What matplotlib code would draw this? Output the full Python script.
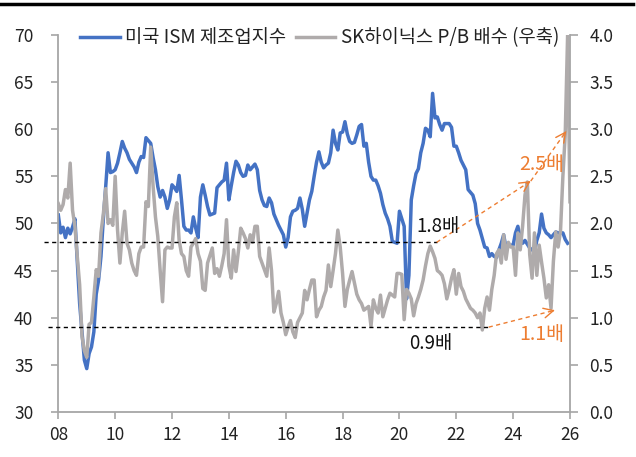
import numpy as np
import matplotlib
matplotlib.use("Agg")
import matplotlib.pyplot as plt
from matplotlib.lines import Line2D

plt.rcParams['font.family'] = ['Noto Sans CJK KR', 'DejaVu Sans']

BLUE = '#4472C4'
GRAY = '#AFABAB'
ORANGE = '#ED7D31'
AXIS_GRAY = '#A6A6A6'

START_YEAR = 2008

# 미국 ISM 제조업지수, monthly 2008-01 ~ 2025-12
ism_values = [
    50.9, 49.0, 49.6, 48.5, 49.5, 48.9, 49.6, 50.5, 46.0, 41.5, 38.5, 35.5,  # 2008
    34.6, 36.2, 36.9, 38.5, 42.5, 44.0, 46.5, 50.5, 53.9, 57.5, 55.4, 55.5,  # 2009
    55.7, 56.4, 57.5, 58.7, 58.0, 57.5, 56.8, 56.4, 56.0, 55.4, 56.5, 57.1,  # 2010
    57.0, 59.1, 58.8, 58.5, 57.0, 55.7, 53.9, 52.8, 53.5, 52.8, 51.6, 52.5,  # 2011
    54.1, 53.8, 53.4, 55.1, 52.5, 49.7, 49.3, 49.3, 49.0, 50.7, 49.5, 48.5,  # 2012
    52.8, 54.1, 53.0, 51.8, 50.9, 51.0, 51.1, 53.8, 54.1, 54.4, 54.6, 56.4,  # 2013
    52.5, 54.0, 55.4, 56.6, 56.2, 55.4, 55.0, 55.1, 56.2, 55.7, 56.0, 56.3,  # 2014
    55.7, 53.5, 52.5, 51.9, 51.8, 52.7, 52.2, 51.0, 50.4, 49.8, 49.3, 48.8,  # 2015
    47.5, 48.5, 50.7, 51.3, 51.4, 51.6, 52.7, 51.5, 49.7, 51.1, 52.5, 53.4,  # 2016
    55.0, 56.5, 57.6, 56.5, 55.9, 56.2, 56.4, 57.5, 59.9, 58.5, 57.8, 59.6,  # 2017
    59.7, 60.8, 59.5, 58.7, 58.5, 58.6, 59.4, 60.3, 60.5, 58.2, 58.5, 56.5,  # 2018
    55.0, 54.6, 54.6, 54.0, 53.2, 52.0, 51.1, 50.5, 49.7, 48.1, 48.0, 47.9,  # 2019
    51.3, 50.5, 49.7, 42.0, 44.5, 52.5, 54.0, 55.3, 55.8, 57.5, 58.5, 60.1,  # 2020
    59.9, 59.2, 63.8, 61.2, 61.3, 60.5, 59.9, 60.6, 60.6, 60.6, 60.2, 58.2,  # 2021
    58.2, 57.5, 56.7, 56.2, 55.7, 53.6, 53.3, 53.0, 52.1, 50.0, 49.3, 48.4,  # 2022
    47.5, 47.4, 46.5, 46.8, 46.5, 46.4, 47.2, 47.9, 48.8, 47.4, 47.6, 47.7,  # 2023
    47.7, 49.0, 49.7, 48.5, 47.9, 48.2, 47.8, 47.4, 47.2, 47.0, 48.2, 49.0,  # 2024
    51.0, 49.5, 49.0, 48.8, 48.5, 48.8, 49.1, 49.0, 49.0, 49.0, 48.3, 47.9,  # 2025
]

# SK하이닉스 P/B 배수, monthly 2008-01 ~ 2026-01
pb_values = [
    2.21, 2.14, 2.20, 2.36, 2.27, 2.64, 2.14, 1.97, 1.65, 1.35, 0.80, 0.65,  # 2008
    0.58, 0.93, 0.95, 1.22, 1.51, 1.44, 1.90, 2.10, 2.37, 2.00, 2.04, 1.98,  # 2009
    2.50, 1.93, 1.58, 1.90, 2.13, 1.79, 1.72, 1.58, 1.50, 1.45, 1.68, 1.75,  # 2010
    1.75, 2.23, 2.18, 2.81, 2.40, 2.07, 1.86, 1.50, 1.17, 1.72, 1.75, 1.74,  # 2011
    1.74, 2.07, 2.22, 1.82, 1.68, 1.65, 1.50, 1.44, 1.75, 1.79, 1.84, 1.68,  # 2012
    1.60, 1.31, 1.29, 1.58, 1.66, 1.74, 1.47, 1.52, 1.44, 1.55, 1.68, 2.04,  # 2013
    1.55, 1.42, 1.72, 1.49, 1.70, 1.95, 1.90, 1.84, 1.74, 1.88, 1.80, 1.97,  # 2014
    1.97, 1.65, 1.58, 1.51, 1.44, 1.74, 1.50, 1.06, 1.15, 1.28, 1.05, 0.95,  # 2015
    0.82, 0.90, 0.97, 0.85, 0.79, 0.95, 1.00, 1.05, 1.29, 1.19, 1.30, 1.40,  # 2016
    1.40, 1.01, 1.08, 1.12, 1.22, 1.29, 1.56, 1.33, 1.50, 1.68, 1.93, 1.75,  # 2017
    1.47, 1.12, 1.30, 1.40, 1.49, 1.37, 1.25, 1.19, 1.15, 1.08, 1.10, 1.12,  # 2018
    0.91, 1.19, 1.10, 1.05, 1.24, 1.01, 1.10, 1.19, 1.26, 1.24, 1.22, 1.47,  # 2019
    1.47, 1.46, 0.98, 1.30, 1.26, 1.20, 1.02, 1.15, 1.22, 1.30, 1.40, 1.55,  # 2020
    1.68, 1.76, 1.70, 1.63, 1.50, 1.48, 1.45, 1.36, 1.20, 1.30, 1.42, 1.51,  # 2021
    1.25, 1.47, 1.33, 1.28, 1.20, 1.15, 1.10, 1.08, 1.05, 1.00, 1.05, 0.87,  # 2022
    1.10, 1.22, 1.08, 1.30, 1.45, 1.68, 1.72, 1.58, 1.88, 1.62, 1.80, 1.75,  # 2023
    1.75, 1.45, 1.90, 1.72, 1.97, 2.30, 2.44, 1.67, 1.42, 1.90, 1.45, 1.77,  # 2024
    1.59, 1.42, 1.21, 1.35, 1.10, 1.60, 1.91, 1.75, 1.92, 2.50, 2.95, 4.00,  # 2025
    2.23,                                                                    # 2026
]

x_ticks = list(range(2008, 2027, 2))
x_tick_labels = ['08', '10', '12', '14', '16', '18', '20', '22', '24', '26']
ism_ticks = list(range(30, 71, 5))
pb_ticks = [0.0, 0.5, 1.0, 1.5, 2.0, 2.5, 3.0, 3.5, 4.0]

# reference P/B levels and the years where the dashed guide lines stop
pb_high, pb_high_end = 1.8, 2021.31
pb_low, pb_low_end = 0.9, 2023.14

# orange arrow targets (year, P/B)
peak_2024 = (2024.62, 2.45)
peak_2025 = (2025.87, 2.98)
trough_2025 = (2025.47, 1.08)


def month_axis(n):
    return START_YEAR + np.arange(n) / 12.0


def dashed_arrow(ax, start, end):
    ax.plot([start[0], end[0]], [start[1], end[1]], color=ORANGE,
            lw=1.0, ls=(0, (3, 2.5)), zorder=5)
    back = (end[0] - (end[0] - start[0]) * 0.03,
            end[1] - (end[1] - start[1]) * 0.03)
    ax.annotate('', xy=end, xytext=back,
                arrowprops=dict(arrowstyle='->,head_length=0.7,head_width=0.35',
                                color=ORANGE, lw=1.0, shrinkA=0, shrinkB=0,
                                mutation_scale=10),
                zorder=5)


def plot_chart():
    fig = plt.figure(figsize=(6.36, 4.57), dpi=100)
    ax1 = fig.add_axes([0.0917, 0.0985, 0.8045, 0.825])
    ax2 = ax1.twinx()

    ax1.plot(month_axis(len(ism_values)), ism_values, color=BLUE, lw=2.5,
             label='미국 ISM 제조업지수', solid_joinstyle='round')
    ax2.plot(month_axis(len(pb_values)), pb_values, color=GRAY, lw=2.5,
             label='SK하이닉스 P/B 배수 (우축)', solid_joinstyle='round')

    ax1.set_xlim(2008, 2026)
    ax1.set_ylim(30, 70)
    ax2.set_ylim(0, 4.0)

    ax1.set_xticks(x_ticks)
    ax1.set_xticklabels(x_tick_labels)
    ax1.set_yticks(ism_ticks)
    ax2.set_yticks(pb_ticks)
    ax2.set_yticklabels([f'{v:.1f}' for v in pb_ticks])

    for ax in (ax1, ax2):
        ax.spines['top'].set_visible(False)
        for side in ('left', 'right', 'bottom'):
            ax.spines[side].set_color(AXIS_GRAY)
            ax.spines[side].set_linewidth(1.3)
    ax1.spines['right'].set_visible(False)
    ax2.spines['left'].set_visible(False)
    ax2.spines['bottom'].set_visible(False)

    ax1.tick_params(axis='y', length=5, width=1.2, color=AXIS_GRAY, pad=13,
                    labelsize=12.5, labelcolor='#222222')
    ax1.tick_params(axis='x', length=5, width=1.2, color=AXIS_GRAY, pad=5,
                    labelsize=12.5, labelcolor='#222222')
    ax2.tick_params(axis='y', length=6, width=1.2, color=AXIS_GRAY, pad=8,
                    labelsize=12.5, labelcolor='#222222')

    # dashed guide lines for the P/B bands
    ax2.plot([2007.5, pb_high_end], [pb_high, pb_high], color='black',
             lw=1.0, ls=(0, (3, 2.5)), clip_on=False, zorder=4)
    ax2.plot([2007.65, pb_low_end], [pb_low, pb_low], color='black',
             lw=1.0, ls=(0, (3, 2.5)), clip_on=False, zorder=4)

    ax2.text(2021.35, 1.97, '1.8배', ha='center', va='center',
             fontsize=13.5, color='#111111', zorder=6)
    ax2.text(2021.1, 0.73, '0.9배', ha='center', va='center',
             fontsize=13.5, color='#111111', zorder=6)

    dashed_arrow(ax2, (pb_high_end, pb_high), peak_2024)
    dashed_arrow(ax2, peak_2024, peak_2025)
    dashed_arrow(ax2, (pb_low_end, pb_low), trough_2025)

    ax2.text(2025.0, 2.63, '2.5배', ha='center', va='center',
             fontsize=14, color=ORANGE, zorder=6)
    ax2.text(2025.0, 0.82, '1.1배', ha='center', va='center',
             fontsize=14, color=ORANGE, zorder=6)

    h1, l1 = ax1.get_legend_handles_labels()
    h2, l2 = ax2.get_legend_handles_labels()
    leg = ax2.legend(h1 + h2, l1 + l2, ncol=2, frameon=False, fontsize=13.5,
                     loc='center', bbox_to_anchor=(0.503, 1 - 38 / 457),
                     bbox_transform=fig.transFigure, handlelength=2.1,
                     handletextpad=0.3, columnspacing=0.5, borderpad=0.2)
    for t in leg.get_texts():
        t.set_color('#222222')

    # thin black rule along the top edge
    fig.add_artist(Line2D([0.0, 0.995], [0.9912, 0.9912], color='black',
                          lw=2.5, transform=fig.transFigure))

    fig.savefig('out.png', dpi=100)


if __name__ == '__main__':
    plot_chart()
